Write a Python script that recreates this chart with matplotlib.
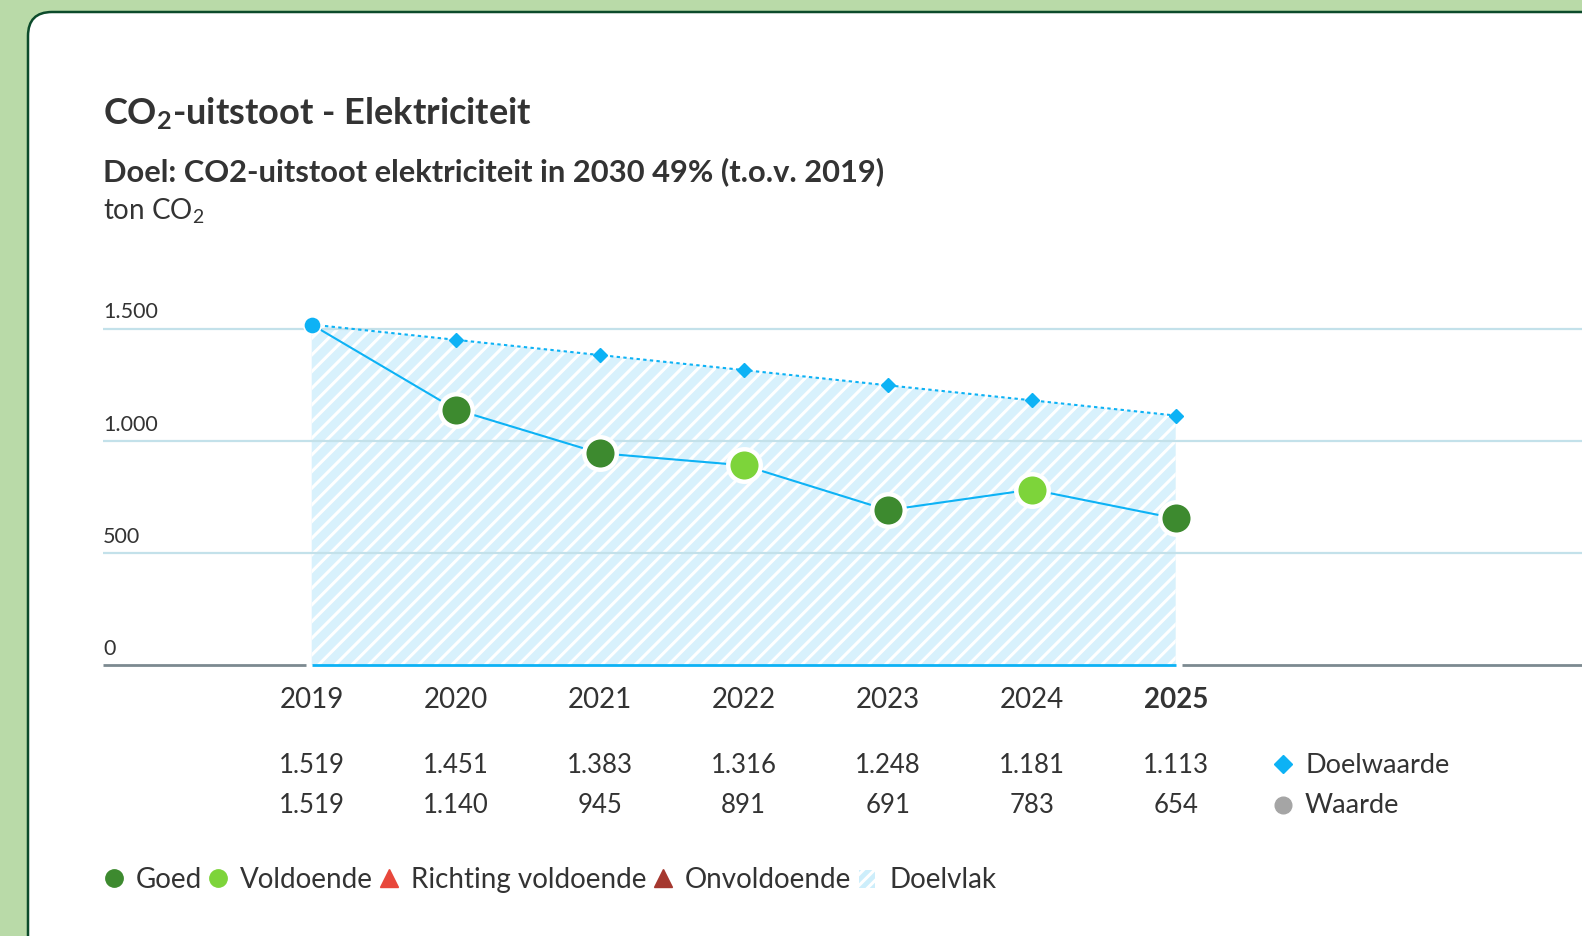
import matplotlib
matplotlib.use("Agg")
import matplotlib.pyplot as plt
from matplotlib.patches import FancyBboxPatch, Rectangle
from matplotlib.transforms import blended_transform_factory

# ---------------- data ----------------
years = [2019, 2020, 2021, 2022, 2023, 2024, 2025]
doelwaarde = [1519, 1451, 1383, 1316, 1248, 1181, 1113]
waarde = [1519, 1140, 945, 891, 691, 783, 654]
status = ["basis", "Goed", "Goed", "Voldoende", "Goed", "Voldoende", "Goed"]
y_ticks = [0, 500, 1000, 1500]
y_tick_labels = ["0", "500", "1.000", "1.500"]
legend_items = ["Goed", "Voldoende", "Richting voldoende", "Onvoldoende", "Doelvlak"]

title_txt = r"$\mathbf{CO_2}$-uitstoot - Elektriciteit"
subtitle_txt = "Doel: CO2-uitstoot elektriciteit in 2030 49% (t.o.v. 2019)"
unit_txt = r"ton $\mathrm{CO_2}$"

# ---------------- style ----------------
FONT = "Lato"
plt.rcParams["font.family"] = [FONT, "DejaVu Sans"]
plt.rcParams["mathtext.fontset"] = "custom"
plt.rcParams["mathtext.rm"] = FONT
plt.rcParams["mathtext.bf"] = FONT + ":bold"
plt.rcParams["mathtext.it"] = FONT + ":italic"
plt.rcParams["hatch.linewidth"] = 2.2

TXT = "#333333"
BLUE = "#0db2f5"
DARKG = "#3d8a2f"
LIGHTG = "#7dd43a"
RED = "#e8473b"
DARKRED = "#a5382f"
GRID = "#c3e1ea"
AXGRAY = "#7c8a90"
FILL = "#d8f1fc"
status_colors = {"basis": BLUE, "Goed": DARKG, "Voldoende": LIGHTG}

W, H = 1582, 937
fig = plt.figure(figsize=(W / 100, H / 100), dpi=100, facecolor="#b9daa8")

# background / overlay axes in pixel units
bg = fig.add_axes([0, 0, 1, 1], zorder=0)
bg.set_xlim(0, W)
bg.set_ylim(H, 0)
bg.axis("off")
card = FancyBboxPatch((28, 13), 1700, 1000, boxstyle="round,pad=0,rounding_size=24",
                      facecolor="white", edgecolor="#0c4b2b", linewidth=1.8)
bg.add_patch(card)

# titles
bg.text(103, 124, title_txt, fontsize=26, fontweight="bold", color=TXT, va="baseline")
bg.text(103, 181, subtitle_txt, fontsize=22.2, fontweight="bold", color=TXT, va="baseline")
bg.text(103, 220, unit_txt, fontsize=20, color=TXT, va="baseline")

# ---------------- main chart ----------------
x0_px, step_px = 311.7, 144.0
left_px, bottom_px, top_px = 103, 666, 285
ax = fig.add_axes([left_px / W, 1 - bottom_px / H, 1 - left_px / W, (bottom_px - top_px) / H], zorder=1)
ax.patch.set_alpha(0)
ax.set_xlim(years[0] - (x0_px - left_px) / step_px, years[0] + (W - x0_px) / step_px)
ax.set_ylim(0, 1700)
for s in ax.spines.values():
    s.set_visible(False)
ax.set_yticks([])

# target area
ax.fill_between(years, 0, doelwaarde, facecolor=FILL, edgecolor="white", hatch="//",
                linewidth=0, zorder=1)

# grid lines
for v in y_ticks[1:]:
    ax.axhline(v, color=GRID, lw=1.6, zorder=2)
for v, lab in zip(y_ticks, y_tick_labels):
    ax.annotate(lab, xy=(0, v), xycoords=("axes fraction", "data"), xytext=(0, 12.5),
                textcoords="offset points", ha="left", va="center", fontsize=15.5, color=TXT)

# baseline
gap = 6 / step_px
xl = ax.get_xlim()
ax.plot([xl[0], years[0] - gap], [0, 0], color=AXGRAY, lw=2, solid_capstyle="butt", zorder=3, clip_on=False)
ax.plot([years[-1] + gap, xl[1]], [0, 0], color=AXGRAY, lw=2, solid_capstyle="butt", zorder=3, clip_on=False)
ax.plot([years[0], years[-1]], [0, 0], color=BLUE, lw=2, solid_capstyle="butt", zorder=3, clip_on=False)

# target line
ax.plot(years, doelwaarde, color=BLUE, lw=1.5, ls=(0, (1.6, 1.6)), zorder=4)
ax.plot(years[1:], doelwaarde[1:], ls="none", marker="D", ms=7.5, color=BLUE,
        markeredgecolor=BLUE, zorder=5)

# value line
ax.plot(years, waarde, color=BLUE, lw=1.5, zorder=4)
for x, v, st in zip(years, waarde, status):
    if st == "basis":
        ax.plot(x, v, marker="o", ms=12.5, color=BLUE, markeredgecolor="white", mew=1.2, zorder=6,
                clip_on=False)
    else:
        ax.plot(x, v, marker="o", ms=23.4, color=status_colors[st], markeredgecolor="white",
                mew=3.2, zorder=6, clip_on=False)

# x labels
ax.set_xticks(years)
ax.set_xticklabels([str(y) for y in years], fontsize=20, color=TXT)
ax.tick_params(axis="x", length=0, pad=15)
ax.get_xticklabels()[-1].set_fontweight("bold")

# data table below
tr = blended_transform_factory(ax.transData, bg.transData)
fmt = lambda v: f"{v:,}".replace(",", ".")
for x, d, v in zip(years, doelwaarde, waarde):
    ax.text(x, 766, fmt(d), transform=tr, ha="center", va="center", fontsize=18.5, color=TXT)
    ax.text(x, 806, fmt(v), transform=tr, ha="center", va="center", fontsize=18.5, color=TXT)

# right legend
bg.plot(1283, 765, marker="D", ms=9, color=BLUE, ls="none")
bg.text(1305, 766, "Doelwaarde", fontsize=19.5, color=TXT, va="center")
bg.plot(1283, 806, marker="o", ms=12, color="#a5a5a5", ls="none")
bg.text(1305, 806, "Waarde", fontsize=19.5, color=TXT, va="center")

# bottom legend
fig.canvas.draw()
renderer = fig.canvas.get_renderer()
ly = 880
x = 114
markers = [("o", DARKG, 12.5), ("o", LIGHTG, 12.5), ("^", RED, 12.5), ("^", DARKRED, 12.5), ("hatch", None, 0)]
for (mk, col, ms), lab in zip(markers, legend_items):
    if mk == "hatch":
        bg.add_patch(Rectangle((x - 8, ly - 9), 16, 18, facecolor="#cdeefb", edgecolor="white",
                               hatch="///", linewidth=0))
    else:
        bg.plot(x, ly - 1, marker=mk, ms=ms, color=col, ls="none")
    t = bg.text(x + 22, ly, lab, fontsize=20, color=TXT, va="center")
    bb = t.get_window_extent(renderer)
    x = bb.x1 + 16

fig.savefig("out.png", dpi=100, facecolor=fig.get_facecolor())
